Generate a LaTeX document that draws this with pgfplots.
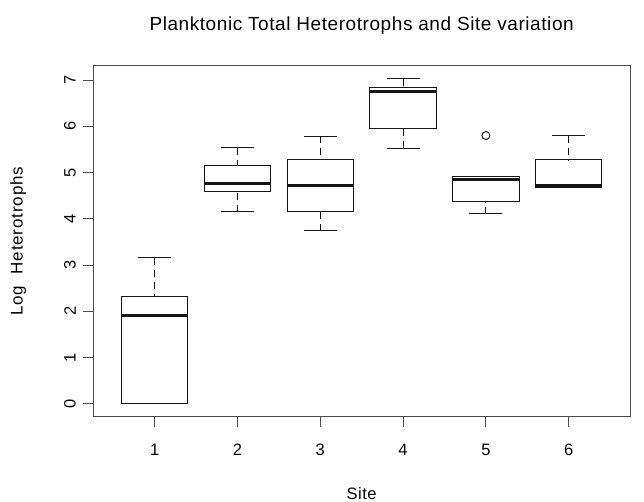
\documentclass[border=0pt]{standalone}
\usepackage{fontspec}
\setmainfont{Liberation Sans}
\usepackage{pgfplots}
\pgfplotsset{compat=1.18}
\usepgfplotslibrary{statistics}
\definecolor{framegray}{gray}{0.3}
\definecolor{boxblack}{gray}{0.08}
\begin{document}
\begin{tikzpicture}[x=1pt,y=1pt]
\useasboundingbox (0,0) rectangle (644,502);
\begin{axis}[
  at={(93.3pt,85.3pt)}, anchor=south west,
  scale only axis, width=536.7pt, height=351pt,
  xmin=0.26, xmax=6.74, ymin=-0.28, ymax=7.31,
  xtick={1,2,3,4,5,6}, ytick={0,1,2,3,4,5,6,7},
  minor xtick={}, minor ytick={},
  tick pos=left, tick align=outside, major tick length=10pt,
  axis line style={framegray, line width=0.9pt},
  every tick/.style={framegray, line width=0.9pt},
  /pgf/number format/assume math mode=true,
  tick label style={font=\fontsize{16.5}{18}\selectfont},
  xticklabel style={anchor=center, yshift=-23.3pt},
  yticklabel style={xshift=-13.3pt, rotate=90, anchor=center},
  title={Planktonic Total Heterotrophs and Site variation},
  title style={at={(axis description cs:0.5,1.096)}, anchor=center, font=\fontsize{19}{22}\selectfont\addfontfeature{LetterSpace=3}},
  xlabel={Site},
  xlabel style={at={(axis description cs:0.5,-0.22)}, anchor=center, font=\fontsize{16.5}{18}\selectfont\addfontfeature{LetterSpace=3}},
  ylabel={Log~~Heterotrophs},
  ylabel style={at={(axis description cs:-0.14,0.5)}, anchor=center, font=\fontsize{17}{18}\selectfont\addfontfeature{LetterSpace=5}},
  boxplot/draw direction=y,
  boxplot/every box/.style={boxblack, line width=1pt},
  boxplot/every median/.style={boxblack, line width=3pt},
  boxplot/draw/lower whisker/.code={%
    \draw[boxblack, line width=1pt, dash pattern=on 7pt off 5pt]
      (boxplot cs:\pgfplotsboxplotvalue{lower whisker}) -- (boxplot cs:\pgfplotsboxplotvalue{lower quartile});
    \draw[boxblack, line width=1pt]
      (boxplot whisker cs:\pgfplotsboxplotvalue{lower whisker},0) -- (boxplot whisker cs:\pgfplotsboxplotvalue{lower whisker},1);
  },
  boxplot/draw/upper whisker/.code={%
    \draw[boxblack, line width=1pt, dash pattern=on 7pt off 5pt]
      (boxplot cs:\pgfplotsboxplotvalue{upper whisker}) -- (boxplot cs:\pgfplotsboxplotvalue{upper quartile});
    \draw[boxblack, line width=1pt]
      (boxplot whisker cs:\pgfplotsboxplotvalue{upper whisker},0) -- (boxplot whisker cs:\pgfplotsboxplotvalue{upper whisker},1);
  },
]
\addplot[boxblack, boxplot prepared={draw position=1, box extend=0.8, whisker extend=0.4,
  lower whisker=0, lower quartile=0, median=1.90, upper quartile=2.31, upper whisker=3.16}] coordinates {};
\addplot[boxblack, boxplot prepared={draw position=2, box extend=0.8, whisker extend=0.4,
  lower whisker=4.15, lower quartile=4.59, median=4.76, upper quartile=5.15, upper whisker=5.54}] coordinates {};
\addplot[boxblack, boxplot prepared={draw position=3, box extend=0.8, whisker extend=0.4,
  lower whisker=3.74, lower quartile=4.15, median=4.72, upper quartile=5.28, upper whisker=5.78}] coordinates {};
\addplot[boxblack, boxplot prepared={draw position=4, box extend=0.8, whisker extend=0.4,
  lower whisker=5.52, lower quartile=5.96, median=6.745, upper quartile=6.84, upper whisker=7.03}] coordinates {};
\addplot[boxblack, mark=o, mark size=4pt, mark options={line width=1pt}, boxplot prepared={draw position=5, box extend=0.8, whisker extend=0.4,
  lower whisker=4.11, lower quartile=4.37, median=4.84, upper quartile=4.915, upper whisker=4.915}] coordinates {(0,5.80)};
\addplot[boxblack, boxplot prepared={draw position=6, box extend=0.8, whisker extend=0.4,
  lower whisker=4.68, lower quartile=4.68, median=4.71, upper quartile=5.28, upper whisker=5.80}] coordinates {};
\end{axis}
\end{tikzpicture}
\end{document}
